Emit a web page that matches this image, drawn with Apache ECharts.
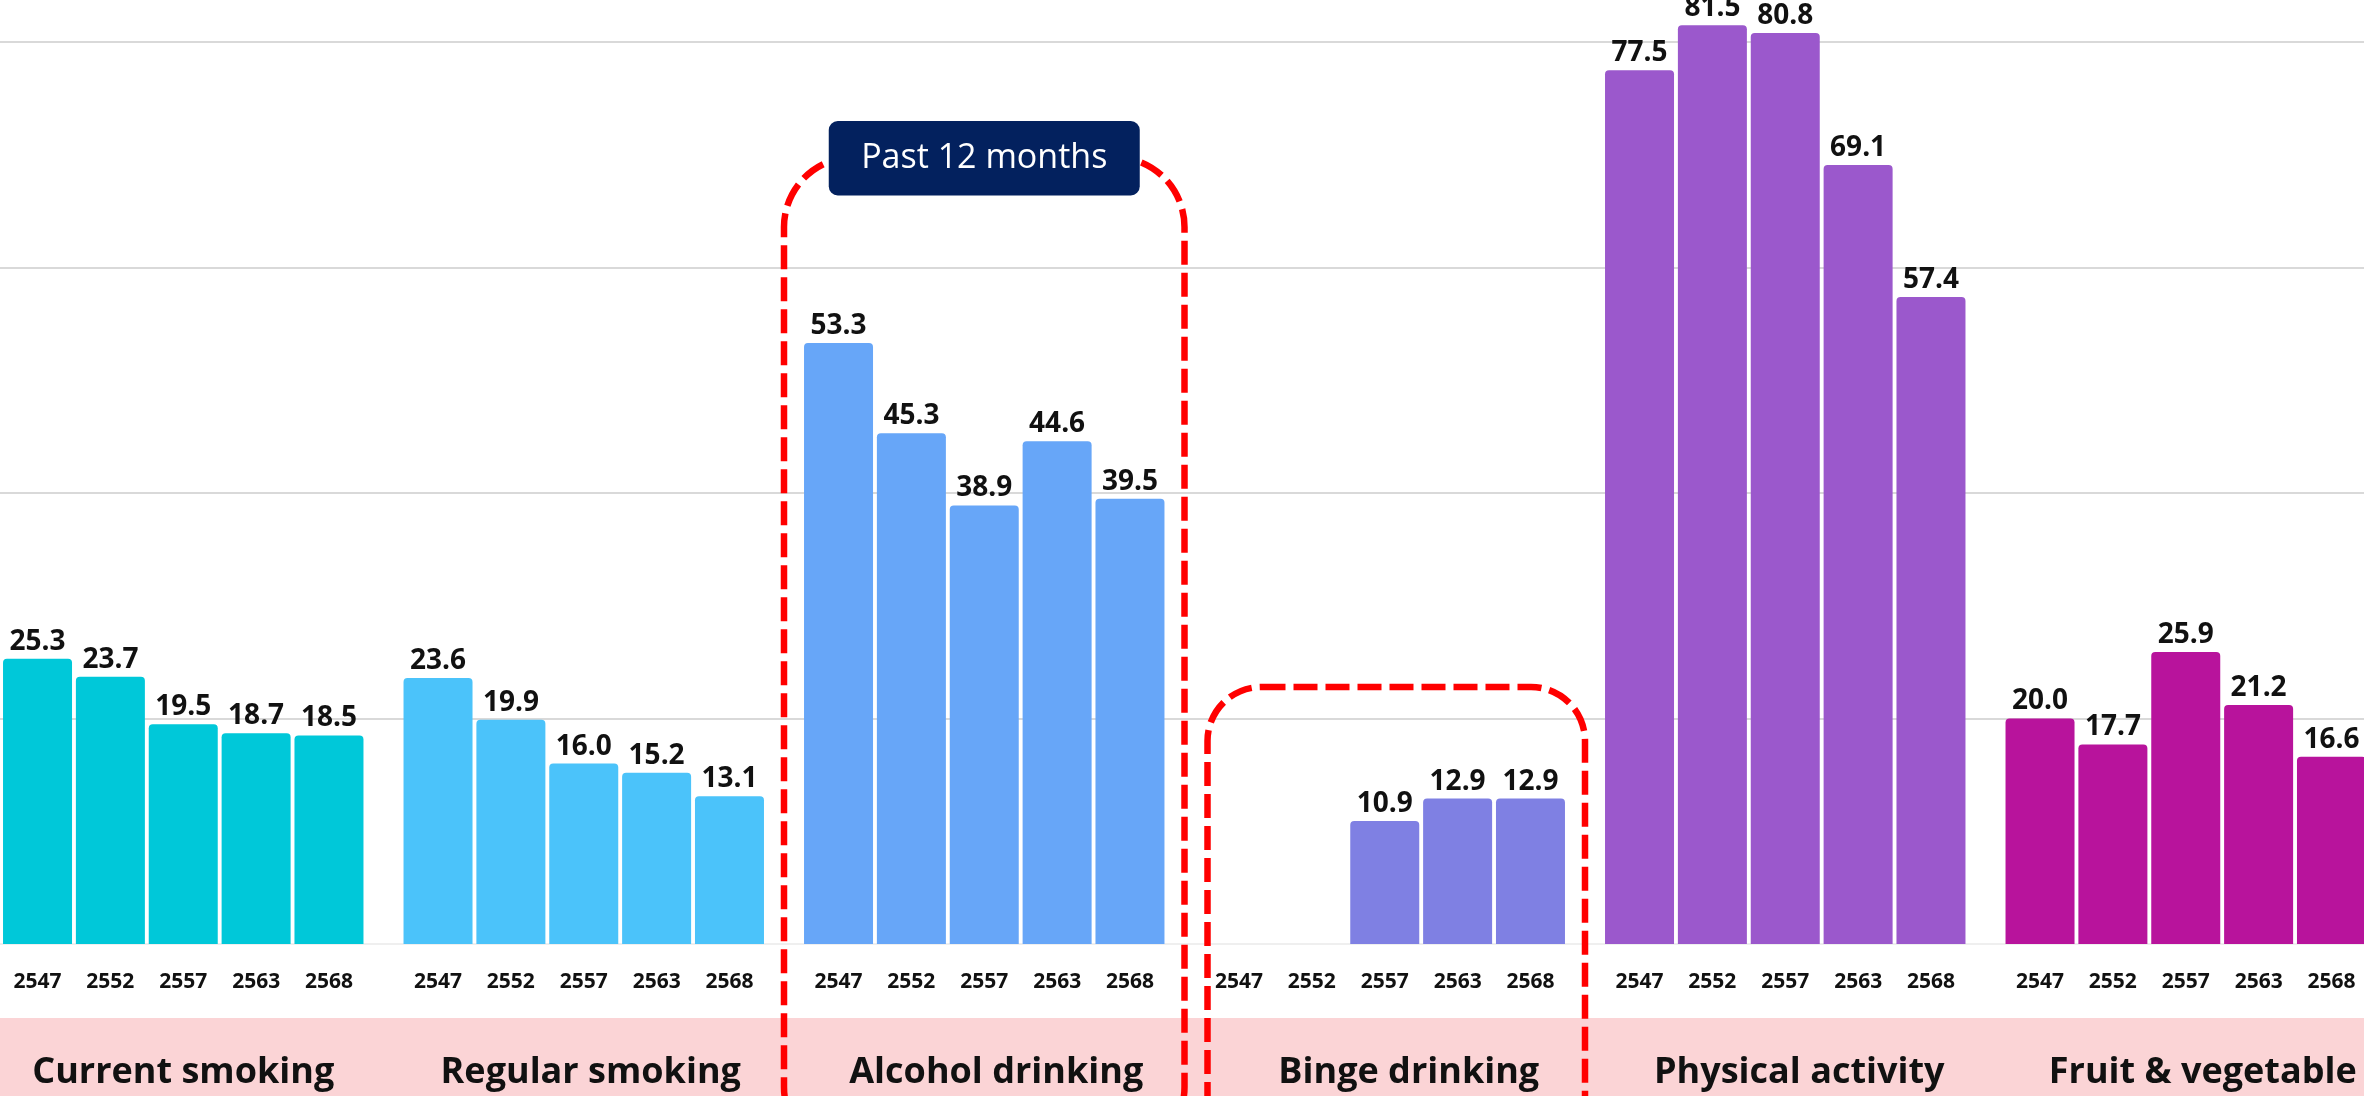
<!DOCTYPE html>
<html><head><meta charset="utf-8">
<script src="https://cdn.jsdelivr.net/npm/echarts@6/dist/echarts.min.js"></script>
<style>html,body{margin:0;padding:0;background:#fff;overflow:hidden;width:2364px;height:1096px;position:relative}
#c{position:absolute;left:-17.4px;top:-3px;width:2403px;height:1099px}</style>
</head><body><div id="c"></div>
<script>
// ---- data ----
const groups = ['Current smoking', 'Regular smoking', 'Alcohol drinking', 'Binge drinking', 'Physical activity', 'Fruit & vegetable'];
const years = ['2547', '2552', '2557', '2563', '2568'];
const currentSmoking   = [25.3, 23.7, 19.5, 18.7, 18.5];
const regularSmoking   = [23.6, 19.9, 16.0, 15.2, 13.1];
const alcoholDrinking  = [53.3, 45.3, 38.9, 44.6, 39.5];
const bingeDrinking    = [null, null, 10.9, 12.9, 12.9];
const physicalActivity = [77.5, 81.5, 80.8, 69.1, 57.4];
const fruitVegetable   = [20.0, 17.7, 25.9, 21.2, 16.6];
const yMin = 0, yMax = 84, yStep = 20;
const note = 'Past 12 months';

// ---- styles ----
const groupColors = ['#00C8D9', '#4BC3FA', '#67A6F8', '#7F80E3', '#9B58CC', '#B8139C'];
const groupLabelShift = [0, 7, 12, 24, 14, 17];
const FONT = 'Open Sans';
const valuesByGroup = [currentSmoking, regularSmoking, alcoholDrinking, bingeDrinking, physicalActivity, fruitVegetable];

const chart = echarts.init(document.getElementById('c'), null, {renderer: 'canvas'});

const series = years.map((yr, yi) => ({
  type: 'bar',
  name: yr,
  xAxisIndex: 0,
  yAxisIndex: 0,
  barGap: '5.6%',
  barCategoryGap: '10%',
  itemStyle: {borderRadius: [4, 4, 0, 0]},
  label: {
    show: true, position: 'top', distance: 3,
    fontFamily: FONT, fontWeight: 'bold', fontSize: 28, color: '#111',
    formatter: p => (p.value == null || p.value === '-') ? '' : Number(p.value).toFixed(1)
  },
  data: groups.map((g, gi) => ({
    value: valuesByGroup[gi][yi] == null ? '-' : valuesByGroup[gi][yi],
    itemStyle: {color: groupColors[gi]}
  }))
}));

const groupRich = {};
groupLabelShift.forEach((s, i) => {
  groupRich['g' + i] = {fontFamily: FONT, fontWeight: 'bold', fontSize: 36, color: '#111', lineHeight: 44, padding: [0, 0, 0, 2 * s]};
});

const pitch = 72.9;
chart.setOption({
  animation: false,
  backgroundColor: '#ffffff',
  grid: {left: 0, right: 0, top: 0, bottom: 152, containLabel: false},
  xAxis: [
    {
      type: 'category', data: groups, position: 'bottom',
      axisLine: {show: true, lineStyle: {color: '#efefef', width: 2}},
      axisTick: {show: false},
      axisLabel: {
        interval: 0, margin: 25,
        formatter: () => years.map(y => '{y|' + y + '}').join(''),
        rich: {y: {width: pitch, align: 'center', fontFamily: FONT, fontWeight: 'bold', fontSize: 21, color: '#111', lineHeight: 26}}
      }
    },
    {
      type: 'category', data: groups, position: 'bottom',
      axisLine: {show: false}, axisTick: {show: false},
      axisLabel: {
        interval: 0, margin: 107,
        formatter: (v, i) => '{g' + i + '|' + v + '}',
        rich: groupRich
      }
    }
  ],
  yAxis: {
    type: 'value', min: yMin, max: yMax, interval: yStep,
    axisLabel: {show: false}, axisLine: {show: false}, axisTick: {show: false},
    splitLine: {show: true, showMinLine: false, showMaxLine: false, lineStyle: {color: '#d9d9d9', width: 2}}
  },
  series: series
});

// ---- annotations positioned through the axes ----
const cx = i => chart.convertToPixel({xAxisIndex: 0}, groups[i]);
const yp = v => chart.convertToPixel({yAxisIndex: 0}, v);
const catW = cx(1) - cx(0);
const ca = cx(2), cb = cx(3);
const dash = {fill: 'none', stroke: '#FF0000', lineWidth: 6.5, lineDash: [24, 8]};
const base = yp(0);

const aTop = yp(69.8), bTop = yp(22.8), lTop = yp(73.0), lBot = yp(66.4);
chart.setOption({
  graphic: [
    {type: 'rect', z: -5, silent: true, shape: {x: 0, y: base + 74, width: 2403, height: 100}, style: {fill: '#FBD4D6'}},
    {type: 'rect', z: 100, silent: true,
     shape: {x: ca - catW / 2, y: aTop, width: catW, height: 1160 - aTop, r: 70}, style: dash},
    {type: 'rect', z: 100, silent: true,
     shape: {x: cb - catW / 2 + 23, y: bTop, width: catW - 23, height: 1160 - bTop, r: 54}, style: dash},
    {type: 'rect', z: 110, silent: true,
     shape: {x: ca - 155.5, y: lTop, width: 311, height: lBot - lTop, r: 9}, style: {fill: '#03215E'}},
    {type: 'text', z: 120, silent: true, x: ca, y: (lTop + lBot) / 2,
     style: {text: note, fill: '#ffffff', font: '34px "Open Sans"', align: 'center', verticalAlign: 'middle'}}
  ]
});
</script>
</body></html>
